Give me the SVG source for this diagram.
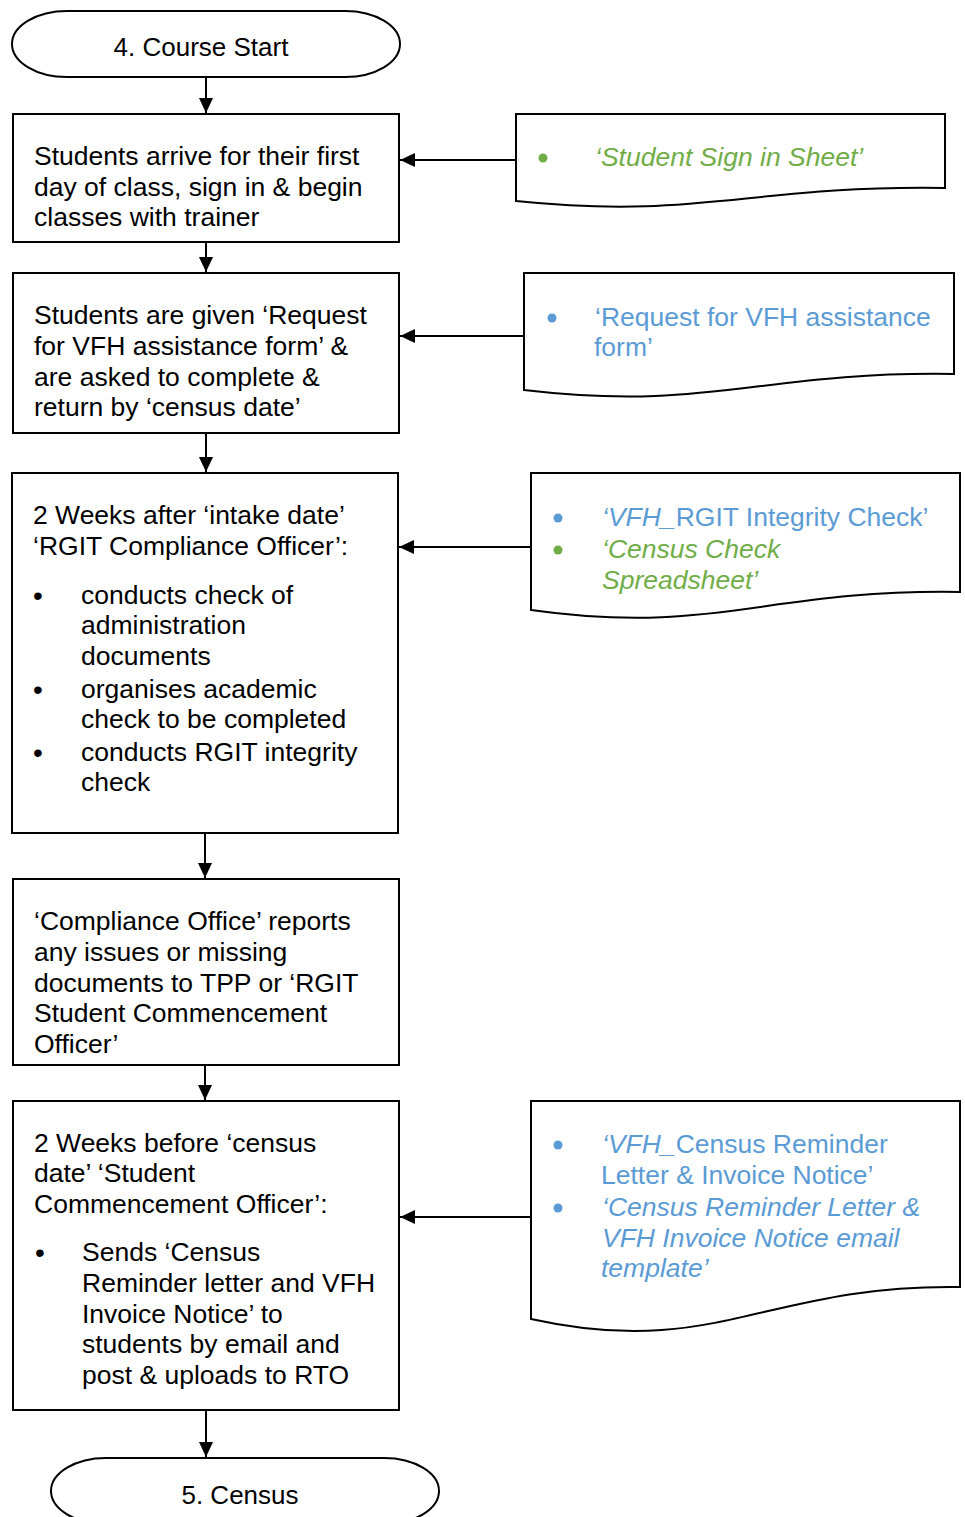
<svg xmlns="http://www.w3.org/2000/svg" width="965" height="1517" viewBox="0 0 965 1517">
  <style>
    .shape { fill: #ffffff; stroke: #000000; stroke-width: 2; }
    .t { font-family: "Liberation Sans", Arial, sans-serif; font-size: 26.5px; fill: #000000; }
    .b { font-family: "Liberation Sans", Arial, sans-serif; font-size: 28px; fill: #000000; }
    .term { font-family: "Liberation Sans", Arial, sans-serif; font-size: 26px; fill: #000000; text-anchor: middle; }
    .green { fill: #70AD47; }
    .blue { fill: #5B9BD5; }
    .it { font-style: italic; }
    .up { font-style: normal; }
    .edge { stroke: #000000; stroke-width: 2; fill: none; marker-end: url(#arrow); }
  </style>
  <defs>
    <marker id="arrow" markerUnits="userSpaceOnUse" markerWidth="15" markerHeight="14" refX="15" refY="7" orient="auto">
      <path d="M0,0 L15,7 L0,14 Z" fill="#000000"/>
    </marker>
  </defs>
  <rect width="965" height="1517" fill="#ffffff"/>

  <!-- connectors -->
  <g id="connectors">
    <line class="edge" x1="206" y1="77" x2="206" y2="113"/>
    <line class="edge" x1="206" y1="242" x2="206" y2="272"/>
    <line class="edge" x1="206" y1="433" x2="206" y2="472"/>
    <line class="edge" x1="205" y1="833" x2="205" y2="878"/>
    <line class="edge" x1="205" y1="1065" x2="205" y2="1100"/>
    <line class="edge" x1="206" y1="1410" x2="206" y2="1457"/>
    <line class="edge" x1="516" y1="160" x2="400" y2="160"/>
    <line class="edge" x1="524" y1="336" x2="400" y2="336"/>
    <line class="edge" x1="531" y1="547" x2="399" y2="547"/>
    <line class="edge" x1="531" y1="1217" x2="400" y2="1217"/>
  </g>

  <!-- start terminal -->
  <g id="course-start">
    <rect class="shape" x="12" y="11" width="388" height="66" rx="55" ry="33"/>
    <text class="term" x="201" y="56">4. Course Start</text>
  </g>

  <!-- process steps -->
  <g id="first-day">
    <rect class="shape" x="13" y="114" width="386" height="128"/>
    <text class="t" x="34" y="165">Students arrive for their first</text>
    <text class="t" x="34" y="196">day of class, sign in &amp; begin</text>
    <text class="t" x="34" y="226">classes with trainer</text>
  </g>

  <g id="request-form">
    <rect class="shape" x="13" y="273" width="386" height="160"/>
    <text class="t" x="34" y="324">Students are given ‘Request</text>
    <text class="t" x="34" y="355">for VFH assistance form’ &amp;</text>
    <text class="t" x="34" y="386">are asked to complete &amp;</text>
    <text class="t" x="34" y="416">return by ‘census date’</text>
  </g>

  <g id="compliance-check">
    <rect class="shape" x="12" y="473" width="386" height="360"/>
    <text class="t" x="33" y="524">2 Weeks after ‘intake date’</text>
    <text class="t" x="33" y="555">‘RGIT Compliance Officer’:</text>
    <text class="b" x="33" y="605">•</text>
    <text class="t" x="81" y="604">conducts check of</text>
    <text class="t" x="81" y="634">administration</text>
    <text class="t" x="81" y="665">documents</text>
    <text class="b" x="33" y="699">•</text>
    <text class="t" x="81" y="698">organises academic</text>
    <text class="t" x="81" y="728">check to be completed</text>
    <text class="b" x="33" y="762">•</text>
    <text class="t" x="81" y="761">conducts RGIT integrity</text>
    <text class="t" x="81" y="791">check</text>
  </g>

  <g id="report-issues">
    <rect class="shape" x="13" y="879" width="386" height="186"/>
    <text class="t" x="34" y="930">‘Compliance Office’ reports</text>
    <text class="t" x="34" y="961">any issues or missing</text>
    <text class="t" x="34" y="992">documents to TPP or ‘RGIT</text>
    <text class="t" x="34" y="1022">Student Commencement</text>
    <text class="t" x="34" y="1053">Officer’</text>
  </g>

  <g id="census-reminder">
    <rect class="shape" x="13" y="1101" width="386" height="309"/>
    <text class="t" x="34" y="1152">2 Weeks before ‘census</text>
    <text class="t" x="34" y="1182">date’ ‘Student</text>
    <text class="t" x="34" y="1213">Commencement Officer’:</text>
    <text class="b" x="35" y="1262">•</text>
    <text class="t" x="82" y="1261">Sends ‘Census</text>
    <text class="t" x="82" y="1292">Reminder letter and VFH</text>
    <text class="t" x="82" y="1323">Invoice Notice’ to</text>
    <text class="t" x="82" y="1353">students by email and</text>
    <text class="t" x="82" y="1384">post &amp; uploads to RTO</text>
  </g>

  <!-- documents -->
  <g id="doc-sign-in">
    <path class="shape" d="M516,114 H945 V188 C750,185 700,220 516,201 Z"/>
    <circle class="green" cx="543" cy="158" r="4.5"/>
    <text class="t green it" x="595" y="166">‘Student Sign in Sheet’</text>
  </g>

  <g id="doc-request">
    <path class="shape" d="M524,273 H954 V374 C760,371 710,412 524,390 Z"/>
    <circle class="blue" cx="552" cy="318" r="4.5"/>
    <text class="t blue" x="595" y="326">‘Request for VFH assistance</text>
    <text class="t blue" x="594" y="356">form’</text>
  </g>

  <g id="doc-integrity">
    <path class="shape" d="M531,473 H960 V592 C765,589 715,636 531,610 Z"/>
    <circle class="blue" cx="558" cy="518" r="4.5"/>
    <text class="t blue" x="602" y="526"><tspan class="it">‘VFH_</tspan><tspan class="up">RGIT Integrity Check’</tspan></text>
    <circle class="green" cx="558" cy="550" r="4.5"/>
    <text class="t green it" x="602" y="558">‘Census Check</text>
    <text class="t green it" x="602" y="589">Spreadsheet’</text>
  </g>

  <g id="doc-reminder">
    <path class="shape" d="M531,1101 H960 V1287 C765,1284 715,1360 531,1319 Z"/>
    <circle class="blue" cx="558" cy="1145" r="4.5"/>
    <text class="t blue" x="602" y="1153"><tspan class="it">‘VFH_</tspan><tspan class="up">Census Reminder</tspan></text>
    <text class="t blue" x="601" y="1184">Letter &amp; Invoice Notice’</text>
    <circle class="blue" cx="558" cy="1208" r="4.5"/>
    <text class="t blue it" x="602" y="1216">‘Census Reminder Letter &amp;</text>
    <text class="t blue it" x="602" y="1247">VFH Invoice Notice email</text>
    <text class="t blue it" x="601" y="1277">template’</text>
  </g>

  <!-- end terminal -->
  <g id="census">
    <rect class="shape" x="51" y="1458" width="388" height="66" rx="55" ry="33"/>
    <text class="term" x="240" y="1504">5. Census</text>
  </g>
</svg>
